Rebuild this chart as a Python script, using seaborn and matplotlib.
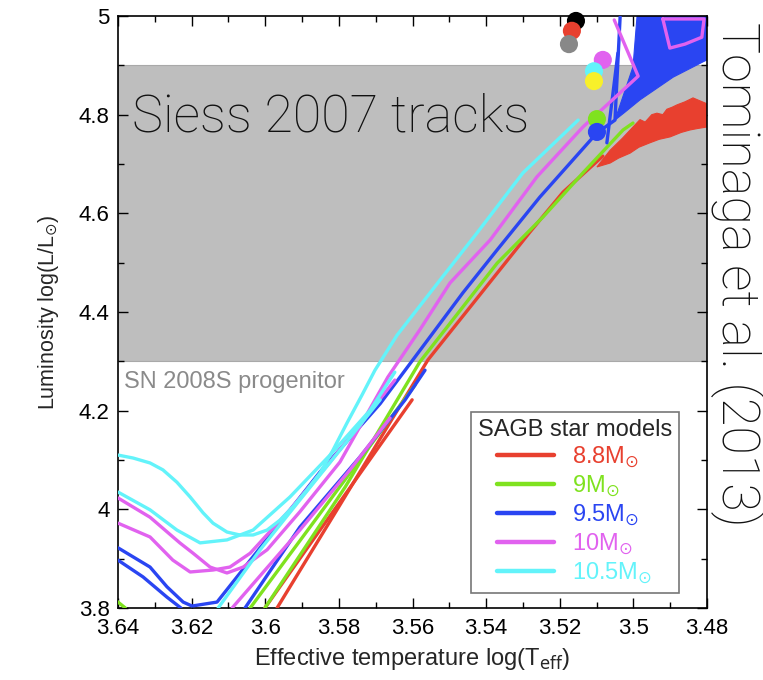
import numpy as np
import pandas as pd
import matplotlib
matplotlib.use("Agg")
import matplotlib.pyplot as plt
import seaborn as sns
from matplotlib.lines import Line2D
from matplotlib.ticker import MultipleLocator, FuncFormatter

# ---------------------------------------------------------------- data
masses = ["8.8", "9", "9.5", "10", "10.5"]
mass_colors = ["#e8402f", "#7fe21f", "#2a45f2", "#e162ef", "#63f3fa"]

# evolutionary tracks: (log Teff, log L/Lsun)
track_88_main = [(3.5968, 3.800), (3.5797, 4.009), (3.5558, 4.303), (3.5389, 4.461),
                 (3.5281, 4.562), (3.5191, 4.643), (3.5083, 4.716)]
track_88_low = [(3.6001, 3.800), (3.5601, 4.222)]

track_9_main = [(3.6001, 3.800), (3.5783, 4.045), (3.5580, 4.299), (3.5370, 4.499),
                (3.5245, 4.593), (3.5137, 4.682), (3.5028, 4.769), (3.5001, 4.783)]
track_9_low = [(3.6041, 3.800), (3.5593, 4.252)]
track_9_edge = [(3.6410, 3.818), (3.6380, 3.800)]

track_95_main = [(3.6400, 3.922), (3.6313, 3.883), (3.6267, 3.843), (3.6223, 3.812),
                 (3.6199, 3.804), (3.6131, 3.812), (3.6014, 3.922), (3.5851, 4.076),
                 (3.5688, 4.214), (3.5593, 4.309), (3.5463, 4.439), (3.5370, 4.526),
                 (3.5254, 4.633), (3.5099, 4.763), (3.5050, 4.789), (3.5036, 4.998)]
track_95_loop = [(3.6400, 3.897), (3.6332, 3.863), (3.6267, 3.822), (3.6229, 3.800)]
track_95_rise = [(3.6055, 3.800), (3.5906, 3.964), (3.5743, 4.106), (3.5620, 4.222),
                 (3.5566, 4.282)]
track_95_pulse = [(3.5072, 4.743), (3.5042, 4.925)]

track_10_main = [(3.6400, 4.023), (3.6313, 3.984), (3.6232, 3.932), (3.6196, 3.911),
                 (3.6150, 3.883), (3.6104, 3.871), (3.6060, 3.883), (3.5995, 3.918),
                 (3.5906, 3.995), (3.5797, 4.096), (3.5667, 4.268), (3.5580, 4.364),
                 (3.5498, 4.459), (3.5389, 4.546), (3.5262, 4.674), (3.5137, 4.775),
                 (3.4987, 4.878), (3.5052, 4.992)]
track_10_loop = [(3.6400, 3.972), (3.6313, 3.944), (3.6251, 3.897), (3.6204, 3.873),
                 (3.6142, 3.877), (3.6096, 3.883), (3.6041, 3.911), (3.5933, 3.999),
                 (3.5824, 4.096), (3.5729, 4.185), (3.5648, 4.262)]
track_10_rise = [(3.6090, 3.800), (3.5906, 3.958), (3.5770, 4.080), (3.5661, 4.185)]
track_10_pulse = [(3.4920, 4.994), (3.4901, 4.935), (3.4860, 4.943), (3.4814, 4.957),
                  (3.4808, 4.994), (3.4920, 4.994)]

track_105_main = [(3.6400, 4.110), (3.6359, 4.104), (3.6313, 4.094), (3.6278, 4.080),
                  (3.6240, 4.055), (3.6204, 4.025), (3.6169, 3.993), (3.6142, 3.972),
                  (3.6104, 3.954), (3.6069, 3.948), (3.6033, 3.948), (3.5995, 3.958),
                  (3.5960, 3.978), (3.5925, 4.005), (3.5887, 4.039), (3.5851, 4.074),
                  (3.5816, 4.120), (3.5778, 4.175), (3.5737, 4.232), (3.5702, 4.282),
                  (3.5642, 4.353), (3.5525, 4.465), (3.5425, 4.560), (3.5300, 4.682),
                  (3.5150, 4.789)]
track_105_loop = [(3.6400, 4.035), (3.6313, 3.999), (3.6240, 3.958), (3.6177, 3.932),
                  (3.6104, 3.938), (3.6033, 3.958), (3.5933, 4.025), (3.5824, 4.110),
                  (3.5715, 4.201), (3.5648, 4.278)]
track_105_rise = [(3.6128, 3.800), (3.6014, 3.918), (3.5906, 4.019), (3.5797, 4.120),
                  (3.5688, 4.222)]

# thermally pulsing phases, drawn as filled envelopes
fan_88_teff = [3.5099, 3.5063, 3.5030, 3.5001, 3.4982, 3.4968, 3.4950, 3.4936, 3.4920,
               3.4909, 3.4895, 3.4881, 3.4860, 3.4838, 3.4819, 3.4800,
               3.4800, 3.4825, 3.4846, 3.4870, 3.4900, 3.4930, 3.4955, 3.4985, 3.5009,
               3.5040, 3.5063]
fan_88_lum = [4.694, 4.728, 4.752, 4.775, 4.790, 4.785, 4.800, 4.803, 4.800,
              4.811, 4.815, 4.820, 4.826, 4.834, 4.828, 4.822,
              4.775, 4.772, 4.769, 4.764, 4.755, 4.750, 4.743, 4.734, 4.722,
              4.712, 4.702]
fan_95_teff = [3.5050, 3.5001, 3.4990, 3.4800, 3.4800, 3.4811, 3.4892, 3.4982, 3.5023]
fan_95_lum = [4.789, 4.897, 5.000, 5.000, 4.911, 4.907, 4.876, 4.830, 4.805]

# progenitor estimates
dot_names = ["a", "b", "c", "d", "e", "f", "g", "h"]
dot_colors = ["#000000", "#e8402f", "#888888", "#e162ef", "#63f3fa", "#f8f02a",
              "#7fe21f", "#2a45f2"]
dot_teff = [3.5156, 3.5167, 3.5175, 3.5083, 3.5107, 3.5107, 3.5099, 3.5099]
dot_lum = [4.990, 4.970, 4.943, 4.911, 4.888, 4.868, 4.791, 4.765]

band_low, band_high = 4.3, 4.9

tracks = {
    "8.8": [track_88_main, track_88_low],
    "9": [track_9_main, track_9_low, track_9_edge],
    "9.5": [track_95_main, track_95_loop, track_95_rise, track_95_pulse],
    "10": [track_10_main, track_10_loop, track_10_rise, track_10_pulse],
    "10.5": [track_105_main, track_105_loop, track_105_rise],
}

rows = []
for m, lst in tracks.items():
    for k, tr in enumerate(lst):
        for i, (t, l) in enumerate(tr):
            rows.append({"mass": m, "track": f"{m}-{k}", "step": i, "teff": t, "lum": l})
df = pd.DataFrame(rows)

# ---------------------------------------------------------------- style
sns.set_theme(style="ticks")
plt.rcParams["font.family"] = ["Liberation Sans", "DejaVu Sans"]
plt.rcParams["mathtext.fontset"] = "dejavusans"

light_family = ["Roboto", "Lato", "Liberation Sans"]

fig = plt.figure(figsize=(7.63, 6.80), dpi=100)
ax = fig.add_axes([118 / 763, 1 - 608 / 680, 589 / 763, 592 / 680])

ax.axhspan(band_low, band_high, facecolor="#bebebe", edgecolor="#a9a9a9", lw=0.8, zorder=0)

palette = dict(zip(masses, mass_colors))
ax.fill(fan_88_teff, fan_88_lum, color=palette["8.8"], lw=0.8, zorder=2)
ax.fill(fan_95_teff, fan_95_lum, color=palette["9.5"], lw=0.8, zorder=2)
sns.lineplot(data=df, x="teff", y="lum", hue="mass", units="track", estimator=None,
             sort=False, palette=palette, hue_order=masses, lw=2.4, legend=False,
             ax=ax, zorder=3)

sns.scatterplot(x=dot_teff, y=dot_lum, hue=dot_names, palette=dict(zip(dot_names, dot_colors)),
                s=170, linewidth=0, legend=False, ax=ax, zorder=6, clip_on=False)

ax.set_xlim(3.64, 3.48)
ax.set_ylim(3.8, 5.0)
ax.xaxis.set_major_locator(MultipleLocator(0.02))
ax.xaxis.set_minor_locator(MultipleLocator(0.01))
ax.yaxis.set_major_locator(MultipleLocator(0.2))
ax.yaxis.set_minor_locator(MultipleLocator(0.1))
fmt = FuncFormatter(lambda v, p: f"{v:.2f}".rstrip("0").rstrip("."))
ax.xaxis.set_major_formatter(fmt)
ax.yaxis.set_major_formatter(fmt)
ax.tick_params(which="both", direction="in", top=True, right=True, colors="black",
               labelsize=16, width=1.0)
ax.tick_params(which="major", length=7, pad=6)
ax.tick_params(axis="x", which="major", pad=7)
ax.tick_params(which="minor", length=4)
for s in ax.spines.values():
    s.set_linewidth(1.2)
    s.set_color("black")

ax.set_xlabel(r"Effective temperature log(T$_{\rm eff}$)", fontsize=17, labelpad=5)
ax.set_ylabel(r"Luminosity log(L/L$_{\odot}$)", fontsize=15.5, labelpad=13)

ax.text(3.6362, 4.765, "Siess 2007 tracks", fontsize=37.5, va="baseline", ha="left",
        family=light_family, fontweight="light", color="#111111", zorder=5)
ax.text(3.6384, 4.258, "SN 2008S progenitor", fontsize=17, va="center", ha="left",
        color="#8a8a8a", zorder=5)
fig.text(737 / 763, 1 - 274 / 680, "Tominaga et al. (2013)", rotation=270, fontsize=37.5,
         va="center", ha="center", family=light_family, fontweight="light", color="#111111")

handles = [Line2D([], [], color=c, lw=3.2) for c in mass_colors]
labels = [rf"{m}M$_{{\odot}}$" for m in masses]
leg = ax.legend(handles, labels, title="SAGB star models", loc="lower right",
                bbox_to_anchor=(0.9525, 0.0253), fontsize=17, title_fontsize=17,
                frameon=True, fancybox=False, framealpha=1, edgecolor="#777777",
                handlelength=2.4, handletextpad=0.8, labelspacing=0.15, borderpad=0.3,
                borderaxespad=0)
leg.get_frame().set_linewidth(1.2)
for t, c in zip(leg.get_texts(), mass_colors):
    t.set_color(c)
leg.set_zorder(7)

fig.savefig("out.png", dpi=100)
